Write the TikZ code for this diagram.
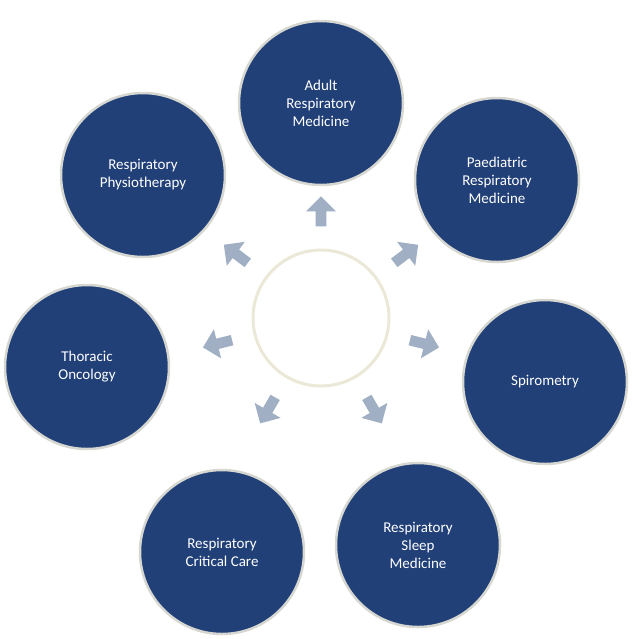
\documentclass[tikz,border=0pt]{standalone}
\usepackage{fontspec}
\setmainfont{Carlito}
\usetikzlibrary{shapes.arrows,calc}
\definecolor{discblue}{RGB}{33,64,120}
\definecolor{ringgray}{RGB}{215,215,210}
\definecolor{arrowgray}{RGB}{160,175,195}
\definecolor{hubring}{RGB}{235,232,215}
\tikzset{
  topic/.style={circle, fill=discblue, draw=ringgray, line width=2.5pt, minimum size=164pt,
    text=white, align=center, font=\fontsize{15}{18}\selectfont},
  pointer/.style={single arrow, fill=arrowgray, draw=none, minimum height=30pt,
    minimum width=30pt, single arrow head extend=4pt, inner sep=2pt}
}
\begin{document}
\begin{tikzpicture}[x=1pt,y=-1pt]
    \useasboundingbox (0,0) rectangle (642,638);
    % hub
    \node[circle, draw=hubring, line width=3pt, fill=white, minimum size=136pt] (hub) at (321,318) {};
    % surrounding topics
    \node[topic] (adult) at (321,103) {Adult\\Respiratory\\Medicine};
    \node[topic] (paed) at (497,180) {Paediatric\\Respiratory\\Medicine};
    \node[topic] (spiro) at (545,382) {Spirometry};
    \node[topic] (sleep) at (418,545) {Respiratory\\Sleep\\Medicine};
    \node[topic] (crit) at (222,552) {Respiratory\\Critical Care};
    \node[topic] (thor) at (87,367) {Thoracic\\Oncology};
    \node[topic] (physio) at (143,175) {Respiratory\\Physiotherapy};
    % arrows out of the hub
    \foreach \a/\n in {90/a1, 37/a2, -14/a3, -60/a4, -120/a5, 194/a6, 143/a7} {
        \node[pointer, rotate=\a] (\n) at ($(hub)+(\a:104pt)$) {};
    }
\end{tikzpicture}
\end{document}
